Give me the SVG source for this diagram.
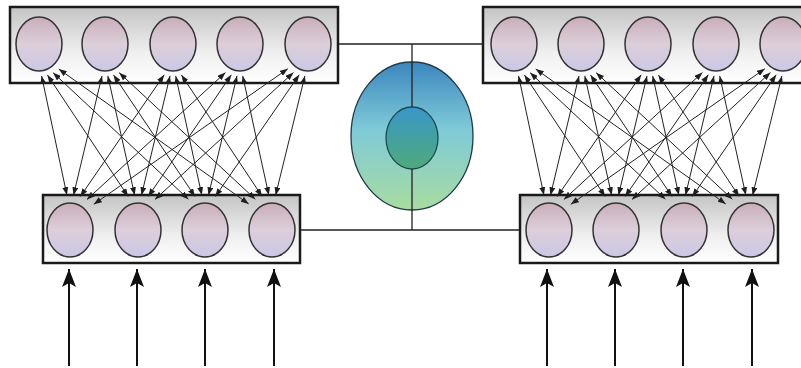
<svg xmlns="http://www.w3.org/2000/svg" width="801" height="368" viewBox="0 0 801 368">
<defs>
<linearGradient id="boxg" x1="0" y1="0" x2="0" y2="1">
<stop offset="0" stop-color="#c4c4c4"/><stop offset="0.6" stop-color="#efefef"/><stop offset="1" stop-color="#ffffff"/>
</linearGradient>
<linearGradient id="nodeg" x1="0" y1="0" x2="0" y2="1">
<stop offset="0" stop-color="#c9adb9"/><stop offset="0.5" stop-color="#dccfda"/><stop offset="1" stop-color="#cbc7e6"/>
</linearGradient>
<linearGradient id="outg" x1="0" y1="0" x2="0" y2="1">
<stop offset="0" stop-color="#3b86bd"/><stop offset="0.45" stop-color="#7ecad8"/><stop offset="1" stop-color="#a8dca0"/>
</linearGradient>
<linearGradient id="ing" x1="0" y1="0" x2="0" y2="1">
<stop offset="0" stop-color="#3a97c9"/><stop offset="1" stop-color="#4daa7a"/>
</linearGradient>
<marker id="ah" viewBox="0 0 8 6" refX="8" refY="3" markerWidth="8" markerHeight="6" markerUnits="userSpaceOnUse" orient="auto-start-reverse">
<path d="M0,0 L8,3 L0,6 z" fill="#1e1e1e"/>
</marker>
<marker id="big" viewBox="0 0 18 14" refX="18" refY="7" markerWidth="18" markerHeight="14" markerUnits="userSpaceOnUse" orient="auto">
<path d="M0,0 L18,7 L0,14 L4,7 z" fill="#111"/>
</marker>
</defs>
<style>
.box{fill:url(#boxg);stroke:#1a1a1a;stroke-width:2.5}
.node{fill:url(#nodeg);stroke:#333;stroke-width:1.5}
.c{fill:none;stroke:#222;stroke-width:1;marker-start:url(#ah);marker-end:url(#ah)}
.link{fill:none;stroke:#222;stroke-width:1.3}
.inp{fill:none;stroke:#111;stroke-width:2;marker-end:url(#big)}
</style>
<rect width="801" height="368" fill="#fff"/>

<g id="layer-top-left">
<rect class="box" x="10" y="7" width="328" height="76"/>
<g id="tl1"><ellipse class="node" cx="39" cy="44" rx="23" ry="27"/></g>
<g id="tl2"><ellipse class="node" cx="105" cy="44" rx="23" ry="27"/></g>
<g id="tl3"><ellipse class="node" cx="173" cy="44" rx="23" ry="27"/></g>
<g id="tl4"><ellipse class="node" cx="240" cy="44" rx="23" ry="27"/></g>
<g id="tl5"><ellipse class="node" cx="308" cy="44" rx="23" ry="27"/></g>
</g>
<g id="layer-bottom-left">
<rect class="box" x="43" y="195" width="257" height="68"/>
<g id="bl1"><ellipse class="node" cx="70" cy="230" rx="23" ry="27"/></g>
<g id="bl2"><ellipse class="node" cx="138" cy="230" rx="23" ry="27"/></g>
<g id="bl3"><ellipse class="node" cx="205" cy="230" rx="23" ry="27"/></g>
<g id="bl4"><ellipse class="node" cx="272" cy="230" rx="23" ry="27"/></g>
</g>
<g id="layer-top-right">
<rect class="box" x="483" y="7" width="328" height="76"/>
<g id="tr1"><ellipse class="node" cx="514" cy="44" rx="23" ry="27"/></g>
<g id="tr2"><ellipse class="node" cx="581" cy="44" rx="23" ry="27"/></g>
<g id="tr3"><ellipse class="node" cx="648" cy="44" rx="23" ry="27"/></g>
<g id="tr4"><ellipse class="node" cx="716" cy="44" rx="23" ry="27"/></g>
<g id="tr5"><ellipse class="node" cx="783" cy="44" rx="23" ry="27"/></g>
</g>
<g id="layer-bottom-right">
<rect class="box" x="520" y="195" width="258" height="68"/>
<g id="br1"><ellipse class="node" cx="549" cy="230" rx="23" ry="27"/></g>
<g id="br2"><ellipse class="node" cx="616" cy="230" rx="23" ry="27"/></g>
<g id="br3"><ellipse class="node" cx="684" cy="230" rx="23" ry="27"/></g>
<g id="br4"><ellipse class="node" cx="751" cy="230" rx="23" ry="27"/></g>
</g>

<g id="center-node">
<ellipse cx="412" cy="136" rx="61" ry="74" fill="url(#outg)" stroke="#1f3a48" stroke-width="1.3"/>
<ellipse cx="412" cy="138" rx="26" ry="31" fill="url(#ing)" stroke="#1d4a50" stroke-width="1.3"/>
</g>

<g id="connectors">
<path class="link" d="M338,44 H483 M300,230 H520 M412,44 V107 M412,169 V230"/>
<g id="conn-left">
<path class="c" d="M41.6,75.9 L66.9,195.1"/>
<path class="c" d="M47.4,74.9 L128.1,196.4"/>
<path class="c" d="M53.1,72.7 L188.4,199.2"/>
<path class="c" d="M58.8,69.1 L248.7,203.9"/>
<path class="c" d="M102,75.9 L73.5,195.2"/>
<path class="c" d="M107.8,75.9 L134.7,195.2"/>
<path class="c" d="M113.5,74.9 L195,196.5"/>
<path class="c" d="M119.2,72.7 L255.3,199.2"/>
<path class="c" d="M164.2,74.8 L80.3,196.5"/>
<path class="c" d="M170,75.9 L141.5,195.2"/>
<path class="c" d="M175.7,75.9 L201.8,195.1"/>
<path class="c" d="M181.4,74.9 L262.1,196.4"/>
<path class="c" d="M225.5,72.5 L87,199.4"/>
<path class="c" d="M231.3,74.8 L148.2,196.5"/>
<path class="c" d="M237,75.9 L208.5,195.2"/>
<path class="c" d="M242.7,75.9 L268.8,195.1"/>
<path class="c" d="M287.8,68.8 L93.8,204.3"/>
<path class="c" d="M293.5,72.5 L155,199.4"/>
<path class="c" d="M299.2,74.8 L215.3,196.5"/>
<path class="c" d="M304.9,75.9 L275.6,195.2"/>
</g>
<g id="conn-right" transform="translate(477,0)">
<path class="c" d="M41.6,75.9 L66.9,195.1"/>
<path class="c" d="M47.4,74.9 L128.1,196.4"/>
<path class="c" d="M53.1,72.7 L188.4,199.2"/>
<path class="c" d="M58.8,69.1 L248.7,203.9"/>
<path class="c" d="M102,75.9 L73.5,195.2"/>
<path class="c" d="M107.8,75.9 L134.7,195.2"/>
<path class="c" d="M113.5,74.9 L195,196.5"/>
<path class="c" d="M119.2,72.7 L255.3,199.2"/>
<path class="c" d="M164.2,74.8 L80.3,196.5"/>
<path class="c" d="M170,75.9 L141.5,195.2"/>
<path class="c" d="M175.7,75.9 L201.8,195.1"/>
<path class="c" d="M181.4,74.9 L262.1,196.4"/>
<path class="c" d="M225.5,72.5 L87,199.4"/>
<path class="c" d="M231.3,74.8 L148.2,196.5"/>
<path class="c" d="M237,75.9 L208.5,195.2"/>
<path class="c" d="M242.7,75.9 L268.8,195.1"/>
<path class="c" d="M287.8,68.8 L93.8,204.3"/>
<path class="c" d="M293.5,72.5 L155,199.4"/>
<path class="c" d="M299.2,74.8 L215.3,196.5"/>
<path class="c" d="M304.9,75.9 L275.6,195.2"/>
</g>
<g id="inputs">
<path class="inp" d="M69,366 V269"/>
<path class="inp" d="M137,366 V269"/>
<path class="inp" d="M205,366 V269"/>
<path class="inp" d="M274,366 V269"/>
<path class="inp" d="M547,366 V269"/>
<path class="inp" d="M615,366 V269"/>
<path class="inp" d="M683,366 V269"/>
<path class="inp" d="M752,366 V269"/>
</g>
</g>
</svg>
